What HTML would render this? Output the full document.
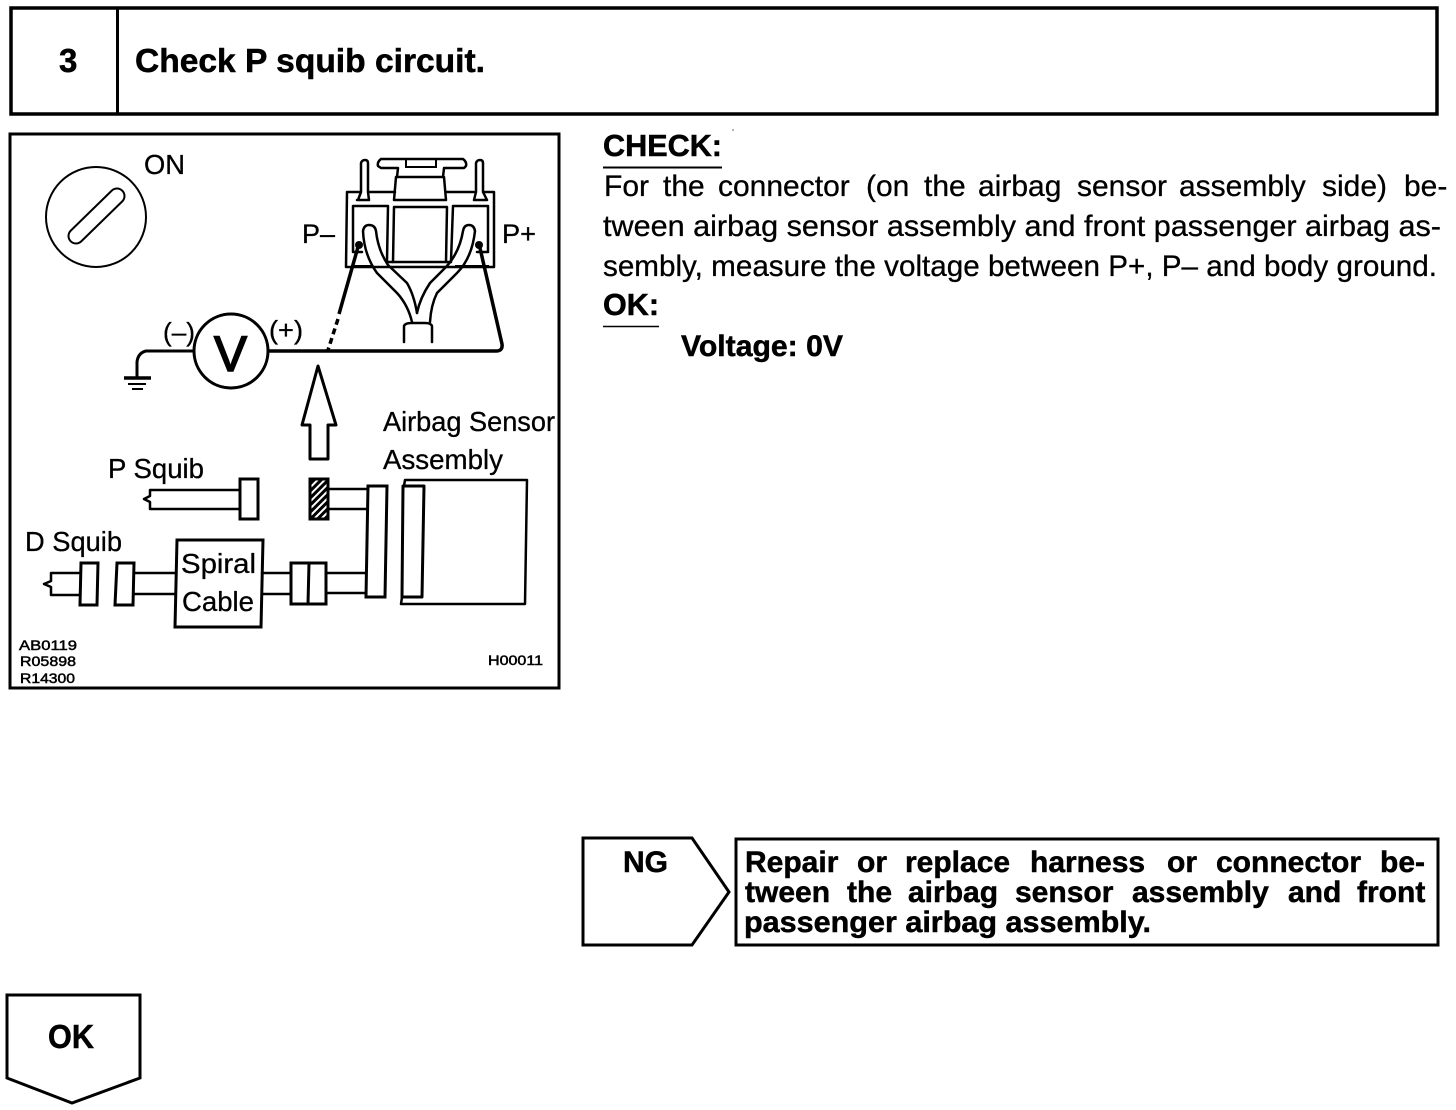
<!DOCTYPE html>
<html><head><meta charset="utf-8">
<style>
html,body{margin:0;padding:0;background:#fff;width:1456px;height:1110px;overflow:hidden}
svg{display:block}
text{font-family:"Liberation Sans",sans-serif;fill:#000;stroke:#000;stroke-width:.3;transform:translateY(-1px)}
.b{font-weight:bold;stroke-width:.5}
.l{fill:none;stroke:#000;stroke-width:2.5;stroke-linejoin:round;stroke-linecap:round}
.t{fill:none;stroke:#000;stroke-width:2}
.w{fill:#fff;stroke:#000;stroke-width:3}
</style></head><body>
<svg width="1456" height="1110" viewBox="0 0 1456 1110" xmlns="http://www.w3.org/2000/svg">
<defs><pattern id="h" width="5" height="5" patternUnits="userSpaceOnUse" patternTransform="rotate(-45)"><rect width="5" height="5" fill="#fff"/><rect width="5" height="3" fill="#000"/></pattern></defs>

<!-- header -->
<rect x="11" y="8" width="1426" height="106" fill="none" stroke="#000" stroke-width="3.5"/>
<line x1="117.500" y1="8" x2="117.500" y2="115" stroke="#000" stroke-width="3"/>
<text class="b" x="59" y="73" font-size="33">3</text>
<text class="b" x="135" y="73" font-size="33" textLength="350" lengthAdjust="spacingAndGlyphs">Check P squib circuit.</text>

<!-- diagram frame -->
<rect x="10" y="134" width="549" height="554" fill="none" stroke="#000" stroke-width="3"/>

<!-- key -->
<circle cx="96" cy="217" r="50" class="t"/>
<line x1="76" y1="236" x2="117" y2="196" stroke="#000" stroke-width="17" stroke-linecap="round"/>
<line x1="76" y1="236" x2="117" y2="196" stroke="#fff" stroke-width="13" stroke-linecap="round"/>
<text x="144" y="175" font-size="28" textLength="41" lengthAdjust="spacingAndGlyphs">ON</text>

<!-- connector body -->
<path class="l" d="M347 192 H360 M369 192 H395 M446 192 H474 M484 192 H494 V267 H346 L347 192"/>
<!-- pins -->
<path class="l" d="M361 192 V163 Q362 160 365 160 Q368 160 368 163 V192 M357 200 H369 M361 192 L358 200 M368 192 L369 200"/>
<path class="l" d="M476 192 V163 Q477 160 480 160 Q483 160 483 163 V192 M474 200 H487 M476 192 L474 200 M483 192 L487 200"/>
<!-- latch -->
<path class="l" d="M381 159 H463 Q467 162 466 166 L464 168 H444 L443 177 M381 159 Q377 162 378 166 L381 168 H398 L397 177"/>
<path class="t" d="M406 160 V167 H436 V160"/>
<path class="l" d="M396 177 H444 L446 200 H394 Z"/>
<!-- center window -->
<path class="l" d="M394 207 H447 L446 262 H393 Z"/>
<!-- sockets -->
<path class="l" d="M353 206 H388 L387 261 M353 206 V252 H362"/>
<path class="l" d="M453 206 H488 V252 H477 M453 206 L451 261"/>
<path class="t" d="M354 266 H372 M455 266 H489" stroke-width="1"/>
<path class="l" d="M387 262 H393 M446 262 H451"/>
<!-- tubes -->
<path class="l" fill="#fff" d="M363 231 Q364 225 369 225 Q375 225 376 231 Q378 250 388 265 L407 283 Q414 295 417 313 M363 231 Q364 255 377 273 L397 293 Q408 305 412 322"/>
<path class="l" d="M475 231 Q474 225 469 225 Q464 225 463 231 Q459 255 443 270 L430 283 Q420 298 417 313 M475 231 Q472 258 457 273 L437 293 Q431 305 430 322"/>
<path class="l" d="M404 342 V326 Q405 323 412 323 H425 Q431 323 432 326 V342"/>
<circle cx="359" cy="245" r="4" fill="#000"/>
<circle cx="479" cy="245" r="4" fill="#000"/>
<text x="302" y="244" font-size="27" textLength="33" lengthAdjust="spacingAndGlyphs">P–</text>
<text x="502" y="244" font-size="27" textLength="34" lengthAdjust="spacingAndGlyphs">P+</text>

<!-- probes and meter -->
<path d="M358 247 L339 314" fill="none" stroke="#000" stroke-width="3.500"/>
<path d="M338 319 L328 350" fill="none" stroke="#000" stroke-width="3.500" stroke-dasharray="6 4"/>
<path fill="none" stroke="#000" stroke-width="3.500" stroke-linejoin="round" d="M268 351 H496 Q503 351 502 344 L480 248"/>
<circle cx="231" cy="351" r="37" fill="#fff" stroke="#000" stroke-width="3"/>
<text x="214" y="372" font-size="50" textLength="33" lengthAdjust="spacingAndGlyphs" style="stroke-width:1.6">V</text>
<path fill="none" stroke="#000" stroke-width="3" d="M194 351 H146 Q138 353 137 362 V377"/>
<path stroke="#000" stroke-width="3.500" d="M124 378 H151"/>
<path stroke="#000" stroke-width="2" d="M128 384 H146 M132 389 H143"/>
<text x="163" y="342" font-size="26" textLength="32" lengthAdjust="spacingAndGlyphs">(–)</text>
<text x="269" y="340" font-size="26" textLength="34" lengthAdjust="spacingAndGlyphs">(+)</text>

<!-- big arrow -->
<path class="l" d="M318 366 L302 425 H310 L310 459 H328 V425 H336Z" fill="#fff" style="fill:#fff;stroke-width:3"/>

<text x="383" y="432" font-size="28" textLength="172" lengthAdjust="spacingAndGlyphs">Airbag Sensor</text>
<text x="383" y="470" font-size="28" textLength="120" lengthAdjust="spacingAndGlyphs">Assembly</text>
<text x="108" y="479" font-size="28" textLength="96" lengthAdjust="spacingAndGlyphs">P Squib</text>
<text x="25" y="552" font-size="28" textLength="97" lengthAdjust="spacingAndGlyphs">D Squib</text>

<!-- P squib -->
<path class="l" d="M240 490 H150 V496 L144 499 L150 502 V509 H240"/>
<rect x="240" y="479" width="18" height="40" class="w"/>

<!-- D squib -->
<path class="l" d="M80 573 H51 V581 L44 584 L51 587 V595 H80"/>
<path class="w" d="M81 563 H98 L97 605 H80Z"/>
<path class="w" d="M117 563 H134 L133 605 H115Z"/>
<path class="l" d="M134 573 H176 M134 594 H176"/>

<!-- spiral cable -->
<path class="w" d="M177 540 H263 L261 627 H175Z"/>
<text x="181" y="574" font-size="28" textLength="75" lengthAdjust="spacingAndGlyphs">Spiral</text>
<text x="182" y="612" font-size="28" textLength="72" lengthAdjust="spacingAndGlyphs">Cable</text>
<path class="l" d="M262 573 H291 M262 594 H291"/>
<rect x="291" y="563" width="35" height="41" class="w"/>
<line x1="309" y1="563" x2="308" y2="604" stroke="#000" stroke-width="3"/>
<path class="l" d="M326 573 H367 M326 593 H366"/>

<!-- hatched connector -->
<rect x="310" y="479" width="18" height="40" fill="url(#h)" stroke="#000" stroke-width="3"/>
<path class="l" d="M328 489 H368 M328 509 H368"/>
<path class="w" d="M368 486 H387 L385 597 H366Z"/>

<!-- sensor box -->
<path class="l" d="M404 486 L405 480 H527 L525 604 H401 L402 597"/>
<path class="l" style="stroke-width:3" d="M403 486 H424 L422 597 H402 Z"/>

<!-- code labels -->
<g font-size="14">
<text x="19" y="651" textLength="58" lengthAdjust="spacingAndGlyphs" style="stroke-width:.5">AB0119</text>
<text x="20" y="667" textLength="56" lengthAdjust="spacingAndGlyphs" style="stroke-width:.5">R05898</text>
<text x="20" y="684" textLength="55" lengthAdjust="spacingAndGlyphs" style="stroke-width:.5">R14300</text>
<text x="488" y="666" textLength="55" lengthAdjust="spacingAndGlyphs" style="stroke-width:.5">H00011</text>
</g>

<!-- right text -->
<text class="b" x="603" y="157" font-size="31" textLength="119" lengthAdjust="spacingAndGlyphs">CHECK:</text>
<line x1="603" y1="167.500" x2="722" y2="167.500" stroke="#000" stroke-width="2"/>
<text font-size="30" y="197"><tspan x="604">For</tspan><tspan x="663">the</tspan><tspan x="718">connector</tspan><tspan x="866">(on</tspan><tspan x="924">the</tspan><tspan x="978">airbag</tspan><tspan x="1077">sensor</tspan><tspan x="1179">assembly</tspan><tspan x="1322">side)</tspan><tspan x="1404">be-</tspan></text>
<text x="603" y="237" font-size="30" textLength="838" lengthAdjust="spacingAndGlyphs">tween airbag sensor assembly and front passenger airbag as-</text>
<text x="603" y="277" font-size="30" textLength="834" lengthAdjust="spacingAndGlyphs">sembly, measure the voltage between P+, P– and body ground.</text>
<text class="b" x="603" y="316" font-size="31" textLength="56" lengthAdjust="spacingAndGlyphs">OK:</text>
<line x1="603" y1="326.500" x2="659" y2="326.500" stroke="#000" stroke-width="1.500"/>
<text class="b" x="681" y="357" font-size="30" textLength="162" lengthAdjust="spacingAndGlyphs">Voltage: 0V</text>

<!-- NG -->
<path d="M583 838 H692 L729 892 L692 945 H583Z" fill="none" stroke="#000" stroke-width="3"/>
<text class="b" x="623" y="873" font-size="30" textLength="45" lengthAdjust="spacingAndGlyphs">NG</text>
<rect x="736" y="839" width="702" height="106" fill="none" stroke="#000" stroke-width="3"/>
<text class="b" font-size="30" y="873"><tspan x="745">Repair</tspan><tspan x="857">or</tspan><tspan x="905">replace</tspan><tspan x="1030">harness</tspan><tspan x="1167">or</tspan><tspan x="1216">connector</tspan><tspan x="1380">be-</tspan></text>
<text class="b" font-size="30" y="903"><tspan x="745">tween</tspan><tspan x="847">the</tspan><tspan x="908">airbag</tspan><tspan x="1015">sensor</tspan><tspan x="1132">assembly</tspan><tspan x="1288">and</tspan><tspan x="1357">front</tspan></text>
<text class="b" x="744" y="933" font-size="30" textLength="407" lengthAdjust="spacingAndGlyphs">passenger airbag assembly.</text>

<!-- OK -->
<path d="M7 995 H140 V1078 L72 1103 L7 1078Z" fill="none" stroke="#000" stroke-width="3"/>
<text class="b" x="48" y="1049" font-size="33" textLength="46" lengthAdjust="spacingAndGlyphs">OK</text>
<circle cx="733" cy="130" r=".6" fill="#000"/>
</svg>
</body></html>
